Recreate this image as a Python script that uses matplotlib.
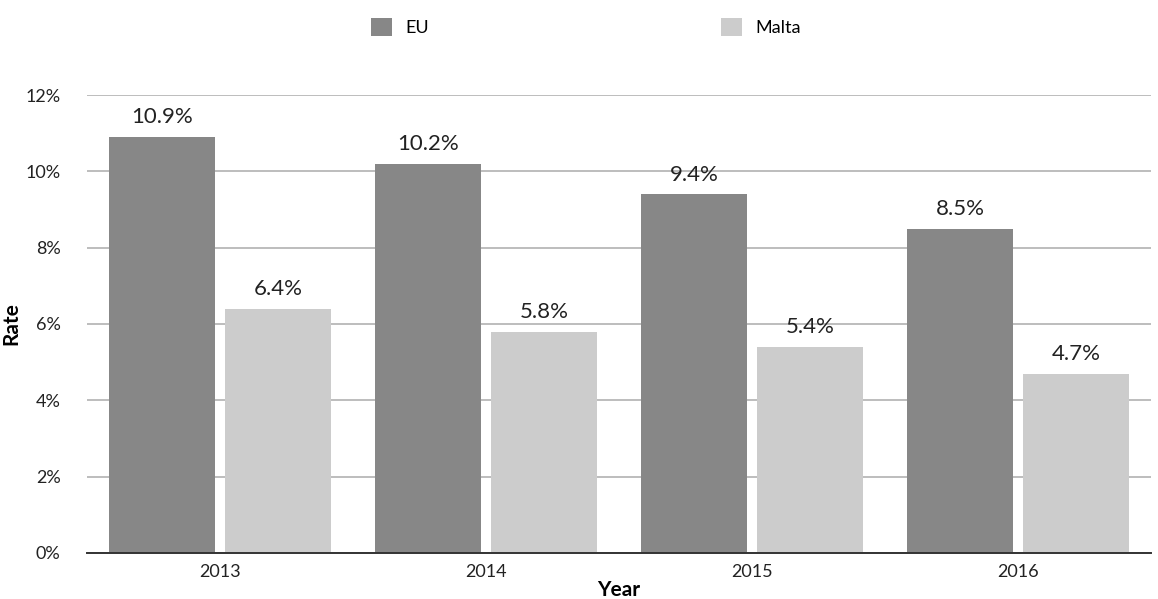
import matplotlib
matplotlib.use("Agg")
import matplotlib.pyplot as plt
from matplotlib.patches import Patch
import numpy as np

plt.rcParams['font.family'] = ['Lato', 'DejaVu Sans']

years = ["2013", "2014", "2015", "2016"]
eu_rate = [10.9, 10.2, 9.4, 8.5]
malta_rate = [6.4, 5.8, 5.4, 4.7]
series_names = ["EU", "Malta"]
series_colors = ["#878787", "#cccccc"]
y_ticks = [0, 2, 4, 6, 8, 10, 12]

fig = plt.figure(figsize=(11.58, 5.99), dpi=100)
ax = fig.add_axes([0.0751, 0.0768, 0.9188, 0.7646])

x = np.arange(len(years))
width = 0.40
offset = 0.218
for vals, name, color, sign in zip([eu_rate, malta_rate], series_names, series_colors, [-1, 1]):
    bars = ax.bar(x + sign * offset, vals, width=width, color=color, zorder=3)
    for b, v in zip(bars, vals):
        ax.annotate(f"{v:.1f}%", (b.get_x() + b.get_width() / 2, v),
                    xytext=(0, 7), textcoords="offset points",
                    ha="center", va="bottom", fontsize=16, color="#222222")

ax.set_xlim(-0.5, len(years) - 0.5)
ax.set_ylim(0, 12)
ax.set_yticks(y_ticks)
ax.set_yticklabels([f"{t}%" for t in y_ticks])
ax.set_xticks(x)
ax.set_xticklabels(years)
ax.tick_params(axis="both", length=0, labelsize=13, colors="#222222")
ax.tick_params(axis="y", pad=19)
ax.tick_params(axis="x", pad=8)

ax.grid(axis="y", color="#bdbdbd", linewidth=1.4, zorder=0)
for s in ["left", "right", "top"]:
    ax.spines[s].set_visible(False)
ax.spines["bottom"].set_color("#333333")
ax.spines["bottom"].set_linewidth(1.4)
ax.spines["bottom"].set_zorder(4)

ax.set_xlabel("Year", fontsize=15, fontweight="bold", labelpad=0)
ax.set_ylabel("Rate", fontsize=15, fontweight="bold", labelpad=3)

# one legend entry per series, spread across the top
legend_x = [371 / 1158, 721 / 1158]
for name, color, lx in zip(series_names, series_colors, legend_x):
    fig.legend([Patch(facecolor=color, edgecolor="none")], [name],
               loc="center left", bbox_to_anchor=(lx, 1 - 27 / 599),
               frameon=False, fontsize=13, borderpad=0, borderaxespad=0,
               handlelength=1.17, handleheight=1.17, handletextpad=0.72)

fig.savefig("out.png", dpi=100, facecolor="white")
